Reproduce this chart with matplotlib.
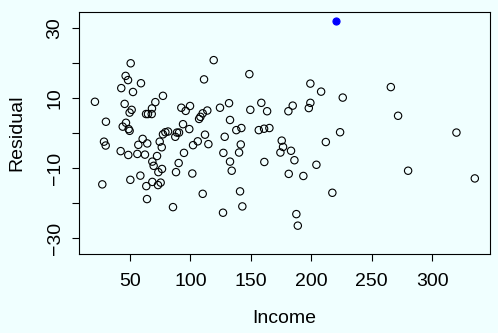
import matplotlib.pyplot as plt

plt.rcParams['font.family'] = ['Liberation Sans', 'DejaVu Sans']

# 收入与残差
income = [21.0, 30.1, 28.5, 29.9, 27.1, 50.6, 46.4, 48.4, 42.8, 52.5,
          59.1, 45.6, 51.4, 49.7, 46.7, 44.0, 48.9, 49.7, 42.3, 48.6,
          50.3, 56.1, 62.4, 58.6, 63.5, 64.1, 68.5, 73.2, 75.4, 68.5,
          69.6, 73.5, 76.5, 72.4, 76.3, 74.6, 77.3, 79.3, 81.5, 56.9,
          60.5, 64.3, 63.3, 64.9, 68.0, 68.2, 71.0, 77.3, 85.6, 87.5,
          88.9, 90.6, 88.1, 90.3, 94.7, 93.9, 99.1, 92.5, 96.1, 99.7,
          101.6, 102.2, 106.1, 107.2, 108.3, 110.2, 112.1, 111.3, 110.2,
          119.3, 148.8, 114.0, 114.9, 124.5, 132.0, 132.8, 138.0, 142.2,
          128.4, 127.3, 132.8, 134.2, 141.7, 140.3, 141.1, 143.0, 127.0,
          149.6, 158.7, 163.5, 156.6, 161.0, 165.4, 161.2, 175.6, 176.7,
          174.5, 183.3, 186.1, 181.4, 193.5, 187.7, 188.9, 181.1, 184.7,
          199.3, 199.3, 198.0, 208.2, 204.3, 212.1, 217.5, 223.9, 226.1,
          265.9, 271.9, 280.2, 320.2, 335.4]
residual = [9.0, 3.3, -2.4, -3.5, -14.6, 20.0, 16.4, 15.2, 12.9, 11.8,
            14.3, 8.4, 6.7, 5.9, 3.0, 1.9, 1.2, 0.7, -5.1, -6.2,
            -13.3, -5.9, -6.1, -12.1, -15.1, -18.8, -13.9, -14.8, -14.1, -8.1,
            -9.3, -11.1, -10.2, -6.5, -4.0, -2.4, -0.3, 0.3, 0.5, -3.3,
            -1.6, -2.9, 5.5, 5.5, 5.5, 7.1, 8.9, 10.7, -21.1, -1.0,
            0.2, 0.2, -11.1, -8.5, -5.6, 2.6, 1.2, 7.3, 6.4, 7.8,
            -11.5, -3.4, -2.3, 4.1, 4.7, 5.7, -0.4, 15.4, -17.3,
            20.9, 16.9, 6.5, -3.1, 7.3, 8.6, 3.8, 0.9, 1.5,
            -1.0, -5.6, -8.1, -10.7, -3.2, -5.5, -16.6, -20.9, -22.7,
            6.7, 8.7, 6.3, 0.9, 1.3, 1.5, -8.2, -2.1, -3.9,
            -5.5, -5.0, -7.7, -11.6, -12.2, -23.1, -26.4, 6.3, 7.9,
            14.2, 8.7, 7.2, 11.9, -9.0, -2.5, -17.0, 0.3, 10.2,
            13.2, 5.0, -10.7, 0.2, -12.9]
# 高亮点
hi_income = [220.3]
hi_residual = [32.0]

x_ticks = [50, 100, 150, 200, 250, 300]
y_ticks = [-30, -20, -10, 0, 10, 20, 30]
y_labels = ['\u221230', '', '\u221210', '', '10', '', '30']

bg = '#f0ffff'
fig = plt.figure(figsize=(4.98, 3.33), dpi=100, facecolor=bg)
ax = fig.add_axes([0.1586, 0.2372, 0.8254, 0.7268], facecolor=bg)

ax.scatter(income, residual, s=28, facecolors='none', edgecolors='black', linewidths=0.8)
ax.scatter(hi_income, hi_residual, s=26, color='blue', edgecolors='blue', linewidths=0.8)

ax.set_xlim(7.8, 348)
ax.set_ylim(-34.5, 34.66)
ax.set_xticks(x_ticks)
ax.set_yticks(y_ticks)
ax.set_yticklabels(y_labels, rotation=90, va='center')
ax.tick_params(axis='both', labelsize=14, length=5, width=0.8, direction='out')
ax.tick_params(axis='x', pad=9)
ax.tick_params(axis='y', pad=6)
for s in ax.spines.values():
    s.set_linewidth(0.8)

ax.set_xlabel('Income', fontsize=14, labelpad=14)
ax.set_ylabel('Residual', fontsize=14, labelpad=15)

fig.savefig('out.png', dpi=100, facecolor=bg)
